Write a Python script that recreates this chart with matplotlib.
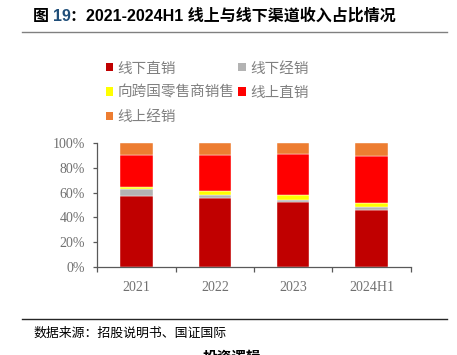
import numpy as np
import matplotlib
matplotlib.use("Agg")
import matplotlib.pyplot as plt
from matplotlib.patches import Patch

plt.rcParams.update({
    "font.family": ["Liberation Sans", "Noto Sans CJK SC", "DejaVu Sans"],
    "axes.spines.top": False,
    "axes.spines.right": False,
})

# ------------------------------------------------------------
# Data (share of revenue, %)
# ------------------------------------------------------------
years = ["2021", "2022", "2023", "2024H1"]
offline_direct = [57.5, 55.4, 52.2, 46.2]
offline_dist = [5.4, 2.7, 2.1, 1.9]
retailer_sales = [1.9, 2.9, 3.5, 3.2]
online_direct = [25.3, 29.1, 33.6, 38.2]
online_dist = [9.9, 9.9, 8.6, 10.5]

series = [
    ("线下直销", offline_direct, "#C00000"),
    ("线下经销", offline_dist, "#B3B3B3"),
    ("向跨国零售商销售", retailer_sales, "#FFFF00"),
    ("线上直销", online_direct, "#FF0000"),
    ("线上经销", online_dist, "#ED7D31"),
]

W, H = 457, 355
fig = plt.figure(figsize=(W / 100, H / 100), dpi=100)
ax = fig.add_axes([97.3 / W, 1 - 267 / H, (410.7 - 97.3) / W, (267 - 143) / H])

x = np.arange(len(years))
bottom = np.zeros(len(years))
handles = {}
for name, vals, color in series:
    v = np.array(vals) / 100.0
    ax.bar(x, v, width=0.41, bottom=bottom, color=color,
           edgecolor="#FFFFFF", linewidth=0.3)
    bottom += v
    handles[name] = Patch(facecolor=color, edgecolor="none")

ax.set_xlim(-0.5, len(years) - 0.5)
ax.set_ylim(0, 1)

grey = "#595959"
label_grey = "#707070"
for s in ["left", "bottom"]:
    ax.spines[s].set_color(grey)
    ax.spines[s].set_linewidth(0.9)

ax.set_yticks(np.linspace(0, 1, 6))
ax.set_yticklabels([f"{int(t)}%" for t in np.linspace(0, 100, 6)])
ax.set_xticks(x)
ax.set_xticklabels(years)
ax.set_xticks(np.arange(-0.5, len(years)), minor=True)
ax.tick_params(axis="x", which="major", length=0, pad=10)
ax.tick_params(axis="x", which="minor", length=3.3, color=grey, width=0.9)
ax.tick_params(axis="y", length=3, color=grey, width=0.9, pad=6)
for lab in ax.get_xticklabels() + ax.get_yticklabels():
    lab.set_fontfamily("Liberation Serif")
    lab.set_fontsize(10)
    lab.set_color(label_grey)

# legend: two columns, filled column-first
order = ["线下直销", "向跨国零售商销售", "线上经销", "线下经销", "线上直销"]
fig.legend([handles[n] for n in order], order,
           loc="upper left", bbox_to_anchor=(106 / W, 1 - 61.5 / H),
           ncol=2, frameon=False, borderpad=0, borderaxespad=0,
           handlelength=0.5, handleheight=0.5, handletextpad=0.3,
           labelspacing=0.7, columnspacing=0.25, labelcolor="#808080",
           prop={"family": ["Noto Sans CJK SC"], "size": 10.5})

# title: "图 19：..." with the figure number in blue
t1 = fig.text(33 / W, 1 - 16 / H, "图 ", fontsize=11.5, fontweight="bold",
              va="center", family=["Noto Sans CJK SC"])
t2 = plt.annotate("19", xycoords=t1, xy=(1, 0), va="bottom", fontsize=11.5,
                  fontweight="bold", color="#1F4E79", family=["Liberation Sans"])
plt.annotate("：2021-2024H1 线上与线下渠道收入占比情况", xycoords=t2, xy=(1, 0),
             va="bottom", fontsize=11.5, fontweight="bold",
             family=["Liberation Sans", "Noto Sans CJK SC"])

# header / footer rules
fig.add_artist(plt.Line2D([22 / W, 447 / W], [1 - 32 / H, 1 - 32 / H],
                          color="#808080", linewidth=1.0))
fig.add_artist(plt.Line2D([22 / W, 447 / W], [1 - 319 / H, 1 - 319 / H],
                          color="#262626", linewidth=1.0))

fig.text(33 / W, 1 - 333 / H, "数据来源：招股说明书、国证国际", fontsize=9.3,
         style="italic", va="center", family=["Noto Sans CJK SC"])
fig.text(232 / W, 1 - 349 / H, "投资逻辑", fontsize=10.5, fontweight="bold",
         va="top", ha="center", family=["Noto Sans CJK SC"])

fig.savefig("out.png", dpi=100)
